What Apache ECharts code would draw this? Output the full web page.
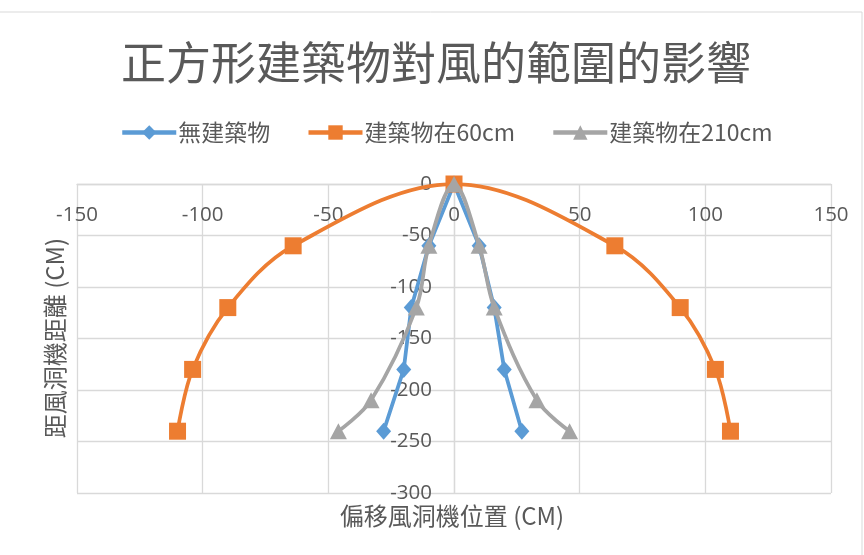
<!DOCTYPE html>
<html>
<head>
<meta charset="utf-8">
<script src="https://cdn.jsdelivr.net/npm/echarts@6/dist/echarts.min.js"></script>
<style>
  html, body { margin: 0; padding: 0; background: #ffffff; }
  #chart { width: 864px; height: 555px; }
</style>
</head>
<body>
<div id="chart"></div>
<script>
// Distance from the wind tunnel (cm), read top-down along each profile
var noBuildingY = [-240, -180, -120, -60, 0, -60, -120, -180, -240];
var noBuildingX = [-28, -20, -17, -10, 0, 10, 16, 20, 27];

var building60Y = [-240, -180, -120, -60, 0, -60, -120, -180, -240];
var building60X = [-110, -104, -90, -64, 0, 64, 90, 104, 110];

var building210Y = [-240, -210, -120, -60, 0, -60, -120, -210, -240];
var building210X = [-46, -33, -15, -10, 0, 10, 16, 33, 46];

var seriesNames = ['無建築物', '建築物在60cm', '建築物在210cm'];
var xTicks = { min: -150, max: 150, step: 50 };
var yTicks = { min: -300, max: 0, step: 50 };

function pairs(xs, ys) {
  return xs.map(function (x, i) { return [x, ys[i]]; });
}

var CJK = '"Noto Sans CJK TC", "Noto Sans", sans-serif';
var NUM = '"Open Sans", "Noto Sans", sans-serif';
var TEXT = '#595959';
var GRID = '#d9d9d9';

var W = 864, H = 555;
var gridBox = { left: 77, right: 33, top: 184, bottom: 62 };
// the vertical axis sits on x = 0, i.e. the middle of the symmetric x range
var yAxisShift = -((W - gridBox.left - gridBox.right) / 2);

var chart = echarts.init(document.getElementById('chart'), null, { renderer: 'canvas' });

chart.setOption({
  backgroundColor: '#ffffff',
  animation: false,
  title: {
    text: '正方形建築物對風的範圍的影響',
    left: 121,
    top: 38,
    padding: 0,
    textStyle: { fontFamily: CJK, fontSize: 45, fontWeight: 'normal', color: TEXT, lineHeight: 50 }
  },
  legend: {
    left: 120,
    top: 121,
    padding: 0,
    itemWidth: 54,
    itemHeight: 18,
    itemGap: 36,
    lineStyle: { width: 4.5 },
    textStyle: { fontFamily: CJK, fontSize: 23, color: TEXT, padding: [0, 0, 0, -3] },
    data: seriesNames
  },
  grid: { left: gridBox.left, right: gridBox.right, top: gridBox.top, bottom: gridBox.bottom, containLabel: false },
  xAxis: {
    type: 'value',
    position: 'top',
    min: xTicks.min,
    max: xTicks.max,
    interval: xTicks.step,
    axisLine: { onZero: false, lineStyle: { color: GRID, width: 1.3 } },
    axisTick: { show: false },
    axisLabel: { inside: true, margin: 21, fontFamily: NUM, fontSize: 20.5, color: TEXT },
    splitLine: { show: true, lineStyle: { color: GRID, width: 1.3 } }
  },
  yAxis: {
    type: 'value',
    position: 'left',
    offset: yAxisShift,
    min: yTicks.min,
    max: yTicks.max,
    interval: yTicks.step,
    axisLine: { show: true, onZero: false, lineStyle: { color: GRID, width: 1.3 } },
    axisTick: { show: false },
    axisLabel: { margin: 22, fontFamily: NUM, fontSize: 20.5, color: TEXT },
    splitLine: { show: true, lineStyle: { color: GRID, width: 1.3 } }
  },
  graphic: [
    {
      type: 'rect',
      shape: { x: -2, y: 12, width: 864, height: 560 },
      style: { fill: 'none', stroke: GRID, lineWidth: 1 },
      silent: true
    },
    {
      type: 'text',
      x: 452, y: 516,
      style: { text: '偏移風洞機位置 (CM)', font: '24px ' + CJK, fill: TEXT, align: 'center', verticalAlign: 'middle' }
    },
    {
      type: 'text',
      x: 55, y: 338,
      rotation: Math.PI / 2,
      style: { text: '距風洞機距離 (CM)', font: '24px ' + CJK, fill: TEXT, align: 'center', verticalAlign: 'middle' }
    }
  ],
  series: [
    {
      name: seriesNames[0],
      type: 'line',
      data: pairs(noBuildingX, noBuildingY),
      symbol: 'diamond',
      symbolSize: [15, 17],
      lineStyle: { color: '#5B9BD5', width: 3.75 },
      itemStyle: { color: '#5B9BD5' },
      z: 2
    },
    {
      name: seriesNames[1],
      type: 'line',
      smooth: 0.35,
      data: pairs(building60X, building60Y),
      symbol: 'rect',
      symbolSize: 17,
      lineStyle: { color: '#ED7D31', width: 3.75 },
      itemStyle: { color: '#ED7D31' },
      z: 3
    },
    {
      name: seriesNames[2],
      type: 'line',
      smooth: 0.35,
      data: pairs(building210X, building210Y),
      symbol: 'triangle',
      symbolSize: [17, 16],
      lineStyle: { color: '#A5A5A5', width: 3.75 },
      itemStyle: { color: '#A5A5A5' },
      z: 4
    }
  ]
});
</script>
</body>
</html>
